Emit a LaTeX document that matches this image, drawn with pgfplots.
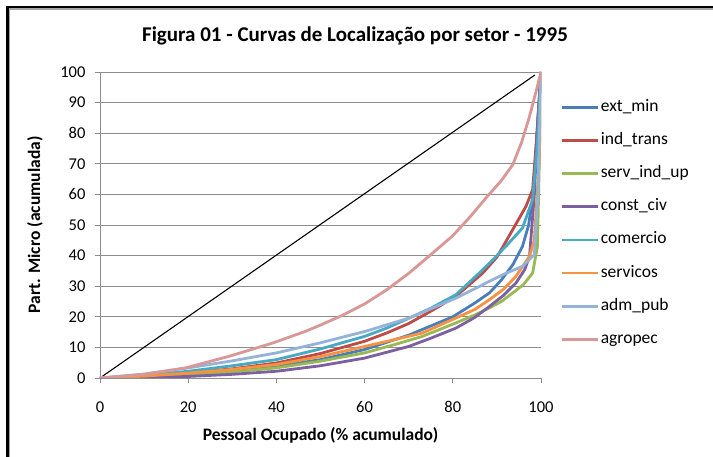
\documentclass[border=0pt]{standalone}
\usepackage{pgfplots}
\pgfplotsset{compat=1.18}
\usepackage{fontspec}
\setmainfont{Carlito}
\definecolor{cext}{HTML}{4A7EBB}
\definecolor{cind}{HTML}{BE4B48}
\definecolor{cserv}{HTML}{98B954}
\definecolor{ccons}{HTML}{7D60A0}
\definecolor{ccom}{HTML}{46AAC5}
\definecolor{cser}{HTML}{F69240}
\definecolor{cadm}{HTML}{95B3D7}
\definecolor{cagr}{HTML}{D99795}
\definecolor{gridc}{HTML}{8C8C8C}
\begin{document}
\begin{tikzpicture}[x=1pt,y=1pt]
\useasboundingbox (0,0) rectangle (713,457);
\fill[white] (0,0) rectangle (713,457);
\draw[line width=2.7pt] (7.3,0) -- (7.3,450) -- (713,450);
\draw[black!35, line width=1.6pt] (9.6,0) -- (9.6,447.7) -- (713,447.7);
\node[font=\bfseries\fontsize{21}{24}\selectfont] at (355,421) {Figura 01 - Curvas de Localização por setor - 1995};
\begin{axis}[
  at={(100pt,79pt)}, anchor=south west,
  width=441pt, height=306pt, scale only axis,
  xmin=0, xmax=100, ymin=0, ymax=100,
  xtick={0,20,...,100}, ytick={0,10,...,100},
  axis lines*=left,
  ymajorgrids, grid style={gridc, line width=0.8pt},
  axis line style={gridc, line width=0.8pt},
  tick style={gridc, line width=0.8pt},
  tick align=outside, major tick length=5pt,
  ticklabel style={font=\fontsize{16.5}{19}\selectfont},
  yticklabel style={anchor=east, xshift=-6pt},
  xticklabel style={anchor=center, yshift=-24pt},
  /pgf/number format/assume math mode=true,
  xlabel={Pessoal Ocupado (\% acumulado)},
  ylabel={Part. Micro (acumulada)},
  label style={font=\bfseries\fontsize{17.5}{20}\selectfont},
  xlabel style={at={(axis description cs:0.5,0)}, anchor=center, yshift=-57pt},
  ylabel style={at={(axis description cs:-0.1474,0.5)}, anchor=center},
  legend style={draw=none, fill=none, at={(axis description cs:1.045,0.914)}, anchor=north west,
    font=\fontsize{17.5}{20}\selectfont, row sep=15.1pt, inner sep=0pt,
    nodes={inner sep=1pt, text height=12pt, text depth=4pt}},
  legend cell align=left,
  legend image code/.code={\draw[#1, line width=2.8pt] (0pt,0pt) -- (36pt,0pt);},
]
\addplot[black, line width=1.1pt, forget plot] coordinates {(0,0)(98.6,99)};
\addplot[cext, line width=2.8pt] coordinates {(0,0)(10,0.4)(20,1.1)(30,2.3)(40,3.8)(50,6)(60,9.3)(70,14)(75,17)(80,20)(85,24.5)(88.3,27.8)(91,32)(93.6,37)(95.8,43)(97.2,50)(98.2,60)(98.7,70)(99.3,85)(100,100)};
\addlegendentry{ext\_min}
\addplot[cind, line width=2.8pt] coordinates {(0,0)(10,0.6)(20,1.6)(30,3)(40,4.9)(50,8)(60,12)(65,14.7)(70,17.8)(75,21.8)(80.7,26.7)(84,30.8)(86.8,34.3)(90,39.5)(93.6,48.5)(96.6,56.1)(98.1,61.5)(99.2,82)(100,100)};
\addlegendentry{ind\_trans}
\addplot[cserv, line width=2.8pt] coordinates {(0,0)(10,0.4)(20,1.1)(30,2)(40,3.3)(50,5.5)(60,8.2)(67,11)(73.1,13.6)(80.7,18)(85,20.6)(88.3,22.9)(91,25)(93.6,27.8)(96,30.5)(98.1,34.3)(99.2,43)(99.6,70)(100,100)};
\addlegendentry{serv\_ind\_up}
\addplot[ccons, line width=2.8pt] coordinates {(0,0)(10,0.1)(20,0.5)(30,1.2)(40,2.2)(50,4)(60,6.5)(70,10.3)(75,13)(80.7,16.3)(85,19.8)(88.3,23.4)(91.5,27)(94.3,31)(96.3,35.4)(97.4,39.8)(98.5,60)(99.2,82)(100,100)};
\addlegendentry{const\_civ}
\addplot[ccom, line width=2.8pt] coordinates {(0,0)(10,0.8)(20,2.2)(30,4)(40,6)(50,9.5)(60,13.6)(65,16.3)(70,19.5)(75,22.8)(80.7,27.2)(86,34.3)(89,38.5)(92,43)(95.8,49)(98.1,58.3)(99.2,76.8)(100,100)};
\addlegendentry{comercio}
\addplot[cser, line width=2.8pt] coordinates {(0,0)(10,0.6)(20,1.6)(30,2.8)(40,4.4)(50,7)(60,10.3)(67,12.6)(73.1,14.7)(80.7,19.6)(85,22.4)(88.3,25.6)(91.5,29)(94.3,33.2)(97.4,39.8)(98.5,45.2)(99.6,71.4)(100,100)};
\addlegendentry{servicos}
\addplot[cadm, line width=2.8pt] coordinates {(0,0)(10,1.3)(20,3.3)(30,5.6)(40,8.2)(50,11.5)(60.3,15.3)(70.1,19.6)(75,22.6)(80.7,26.1)(84.5,28.8)(88.3,31.6)(92,34.2)(95.8,36.5)(98.5,40.3)(99.3,60)(100,100)};
\addlegendentry{adm\_pub}
\addplot[cagr, line width=2.8pt] coordinates {(0,0)(9.6,1.1)(19.4,3.3)(29.3,7.1)(39.1,11.4)(46.7,15.3)(50,17.3)(55,20.5)(60,24.2)(65,28.8)(70,34.2)(75,40.3)(80,46.5)(84,52.8)(87.5,58.8)(91,64.5)(93.6,69.7)(95.6,77)(97.3,85)(98.9,93.7)(100,100)};
\addlegendentry{agropec}
\end{axis}
\end{tikzpicture}
\end{document}
